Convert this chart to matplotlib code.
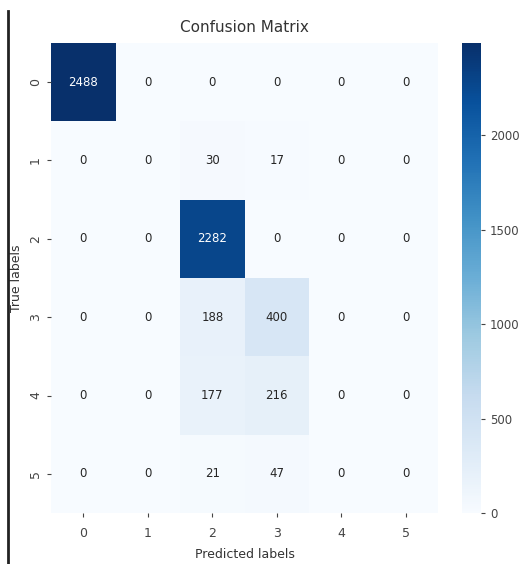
import numpy as np
import matplotlib.pyplot as plt
import seaborn as sns
from matplotlib.lines import Line2D

# class labels and confusion counts (rows = true, cols = predicted)
labels = ["0", "1", "2", "3", "4", "5"]
row_0 = [2488, 0, 0, 0, 0, 0]
row_1 = [0, 0, 30, 17, 0, 0]
row_2 = [0, 0, 2282, 0, 0, 0]
row_3 = [0, 0, 188, 400, 0, 0]
row_4 = [0, 0, 177, 216, 0, 0]
row_5 = [0, 0, 21, 47, 0, 0]

cm = np.array([row_0, row_1, row_2, row_3, row_4, row_5])

fig = plt.figure(figsize=(5.19, 5.64), dpi=100)
ax = fig.add_axes([0.0983, 0.0904, 0.746, 0.8334])
cax = fig.add_axes([0.890, 0.0904, 0.0366, 0.8334])

sns.heatmap(cm, annot=True, fmt="d", cmap="Blues", ax=ax, cbar_ax=cax,
            xticklabels=labels, yticklabels=labels,
            annot_kws={"fontsize": 8.5})

ax.set_title("Confusion Matrix", fontsize=11, color="#333333", pad=8)
ax.set_xlabel("Predicted labels", fontsize=9, color="#333333", labelpad=6)
ax.set_ylabel("True labels", fontsize=9, color="#333333")
ax.tick_params(labelsize=9, colors="#444444", length=3)
ax.tick_params(axis="x", pad=7)
plt.setp(ax.get_yticklabels(), rotation=90, va="center")
cax.tick_params(labelsize=8.5, colors="#444444", length=3)
cax.set_yticks([0, 500, 1000, 1500, 2000])
for sp in cax.spines.values():
    sp.set_visible(False)

# dark border line on the left edge
fig.add_artist(Line2D([8 / 519, 8 / 519], [0, 1 - 11 / 564],
                      transform=fig.transFigure, color="#222222", lw=2))

fig.savefig("out.png", dpi=100)
